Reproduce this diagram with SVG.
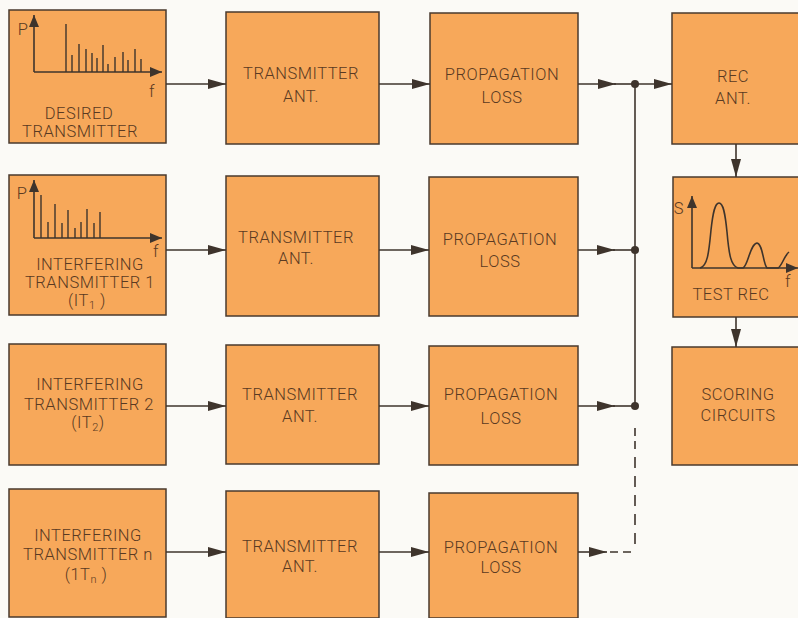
<svg xmlns="http://www.w3.org/2000/svg" width="798" height="618" viewBox="0 0 798 618">
<defs>
<style>
.box{fill:#f7a85a;stroke:#4a3a2e;stroke-width:1.5}
.t{font-family:Roboto,"Liberation Sans",Arial,sans-serif;font-weight:300;font-size:16.5px;fill:#5a3a22;text-anchor:middle;letter-spacing:0.5px}
.ln{stroke:#3e342c;stroke-width:1.6;fill:none}
.dash{stroke:#3e342c;stroke-width:1.6;fill:none}
.ax{stroke:#3e342c;stroke-width:1.6;fill:none}
.sp{stroke:#3e342c;stroke-width:1.4}
.dot{fill:#3e342c}
</style>
<marker id="ah" markerUnits="userSpaceOnUse" markerWidth="20" markerHeight="12" refX="18" refY="6" orient="auto">
<path d="M0,1 L18,6 L0,11 Z" fill="#3e342c"/>
</marker>
<marker id="ax" markerUnits="userSpaceOnUse" markerWidth="14" markerHeight="10" refX="12" refY="5" orient="auto">
<path d="M0,0 L12,5 L0,10 Z" fill="#3e342c"/>
</marker>
</defs>
<rect width="798" height="618" fill="#fbfaf6"/>

<g id="desired-transmitter">
<rect class="box" x="9" y="10" width="157" height="133"/>
<line class="ax" x1="34" y1="72" x2="34" y2="15" marker-end="url(#ax)"/>
<line class="ax" x1="34" y1="72" x2="162" y2="72" marker-end="url(#ax)"/>
<g class="sp">
<line x1="66" y1="72" x2="66" y2="24"/><line x1="72" y1="72" x2="72" y2="55"/><line x1="79" y1="72" x2="79" y2="44"/><line x1="86" y1="72" x2="86" y2="49"/><line x1="92" y1="72" x2="92" y2="53"/><line x1="97" y1="72" x2="97" y2="58"/><line x1="103" y1="72" x2="103" y2="45"/><line x1="108" y1="72" x2="108" y2="64"/><line x1="115" y1="72" x2="115" y2="57"/><line x1="123" y1="72" x2="123" y2="52"/><line x1="128" y1="72" x2="128" y2="60"/><line x1="135" y1="72" x2="135" y2="49"/><line x1="141" y1="72" x2="141" y2="59"/>
</g>
<text class="t" x="23" y="35">P</text>
<text class="t" x="152" y="97">f</text>
<text class="t" x="79" y="119">DESIRED</text>
<text class="t" x="80" y="137">TRANSMITTER</text>
</g>

<g id="interfering-transmitter-1">
<rect class="box" x="9" y="175" width="157" height="140"/>
<line class="ax" x1="34" y1="238" x2="34" y2="180" marker-end="url(#ax)"/>
<line class="ax" x1="34" y1="238" x2="162" y2="238" marker-end="url(#ax)"/>
<g class="sp">
<line x1="41" y1="238" x2="41" y2="195"/><line x1="48" y1="238" x2="48" y2="222"/><line x1="55" y1="238" x2="55" y2="204"/><line x1="62" y1="238" x2="62" y2="223"/><line x1="68" y1="238" x2="68" y2="210"/><line x1="75" y1="238" x2="75" y2="228"/><line x1="81" y1="238" x2="81" y2="222"/><line x1="87" y1="238" x2="87" y2="209"/><line x1="94" y1="238" x2="94" y2="223"/><line x1="100" y1="238" x2="100" y2="212"/>
</g>
<text class="t" x="22" y="199">P</text>
<text class="t" x="156" y="257">f</text>
<text class="t" x="90" y="270">INTERFERING</text>
<text class="t" x="90" y="288">TRANSMITTER 1</text>
<text class="t" x="87" y="306">(IT<tspan font-size="11" dy="3">1</tspan><tspan dy="-3"> )</tspan></text>
</g>

<g id="interfering-transmitter-2">
<rect class="box" x="9" y="344" width="157" height="121"/>
<text class="t" x="90" y="390">INTERFERING</text>
<text class="t" x="89" y="410">TRANSMITTER 2</text>
<text class="t" x="88" y="428">(IT<tspan font-size="11" dy="3">2</tspan><tspan dy="-3">)</tspan></text>
</g>

<g id="interfering-transmitter-n">
<rect class="box" x="9" y="489" width="157" height="128"/>
<text class="t" x="88" y="541">INTERFERING</text>
<text class="t" x="88" y="560">TRANSMITTER n</text>
<text class="t" x="86" y="580">(1T<tspan font-size="11" dy="3">n</tspan><tspan dy="-3"> )</tspan></text>
</g>

<g id="transmitter-ant-1"><rect class="box" x="226" y="12" width="153" height="132"/><text class="t" x="301" y="79">TRANSMITTER</text><text class="t" x="301" y="102">ANT.</text></g>
<g id="transmitter-ant-2"><rect class="box" x="226" y="176" width="153" height="140"/><text class="t" x="296" y="243">TRANSMITTER</text><text class="t" x="296" y="264">ANT.</text></g>
<g id="transmitter-ant-3"><rect class="box" x="226" y="345" width="153" height="119"/><text class="t" x="300" y="400">TRANSMITTER</text><text class="t" x="300" y="422">ANT.</text></g>
<g id="transmitter-ant-n"><rect class="box" x="226" y="491" width="153" height="127"/><text class="t" x="300" y="552">TRANSMITTER</text><text class="t" x="300" y="572">ANT.</text></g>

<g id="propagation-loss-1"><rect class="box" x="430" y="13" width="148" height="131"/><text class="t" x="502" y="80">PROPAGATION</text><text class="t" x="502" y="103">LOSS</text></g>
<g id="propagation-loss-2"><rect class="box" x="429" y="177" width="149" height="139"/><text class="t" x="500" y="245">PROPAGATION</text><text class="t" x="500" y="267">LOSS</text></g>
<g id="propagation-loss-3"><rect class="box" x="429" y="346" width="149" height="119"/><text class="t" x="501" y="400">PROPAGATION</text><text class="t" x="501" y="424">LOSS</text></g>
<g id="propagation-loss-n"><rect class="box" x="429" y="493" width="149" height="125"/><text class="t" x="501" y="553">PROPAGATION</text><text class="t" x="501" y="573">LOSS</text></g>

<g id="rec-ant"><rect class="box" x="672" y="13" width="130" height="131"/><text class="t" x="733" y="82">REC</text><text class="t" x="733" y="104">ANT.</text></g>

<g id="test-rec">
<rect class="box" x="673" y="177" width="129" height="140"/>
<line class="ax" x1="692" y1="268" x2="692" y2="196" marker-end="url(#ax)"/>
<line class="ax" x1="692" y1="268" x2="798" y2="268" marker-end="url(#ax)"/>
<path class="ax" d="M700,268 C708,266 709,250 711,230 C713,212 715,203 719,203 C723,203 725,212 727,232 C729,255 731,266 738,268 L743,268 C748,266 750,244 757,243 C763,244 763,264 767,268 L778,268 C782,266 784,256 789,252"/>
<text class="t" x="679" y="214">S</text>
<text class="t" x="788" y="287">f</text>
<text class="t" x="731" y="300">TEST REC</text>
</g>

<g id="scoring-circuits"><rect class="box" x="672" y="347" width="130" height="118"/><text class="t" x="738" y="400">SCORING</text><text class="t" x="738" y="421">CIRCUITS</text></g>

<g id="connectors">
<line class="ln" x1="166" y1="84" x2="226" y2="84" marker-end="url(#ah)"/>
<line class="ln" x1="379" y1="84" x2="430" y2="84" marker-end="url(#ah)"/>
<line class="ln" x1="578" y1="84" x2="616" y2="84" marker-end="url(#ah)"/>
<line class="ln" x1="614" y1="84" x2="635" y2="84"/>
<line class="ln" x1="635" y1="84" x2="672" y2="84" marker-end="url(#ah)"/>

<line class="ln" x1="166" y1="250" x2="226" y2="250" marker-end="url(#ah)"/>
<line class="ln" x1="379" y1="250" x2="429" y2="250" marker-end="url(#ah)"/>
<line class="ln" x1="578" y1="250" x2="615" y2="250" marker-end="url(#ah)"/>
<line class="ln" x1="613" y1="250" x2="635" y2="250"/>

<line class="ln" x1="166" y1="406" x2="226" y2="406" marker-end="url(#ah)"/>
<line class="ln" x1="379" y1="406" x2="429" y2="406" marker-end="url(#ah)"/>
<line class="ln" x1="578" y1="406" x2="615" y2="406" marker-end="url(#ah)"/>
<line class="ln" x1="613" y1="406" x2="635" y2="406"/>

<line class="ln" x1="166" y1="552" x2="226" y2="552" marker-end="url(#ah)"/>
<line class="ln" x1="379" y1="552" x2="429" y2="552" marker-end="url(#ah)"/>
<line class="ln" x1="578" y1="552" x2="607" y2="552" marker-end="url(#ah)"/>
<path class="dash" d="M610,552 L635,552 L635,427" stroke-dasharray="8,5,8,12,11,8,11,8,11,8,11,8,11,8"/>

<line class="ln" x1="635" y1="84" x2="635" y2="406"/>
<circle class="dot" cx="635" cy="84" r="4"/>
<circle class="dot" cx="635" cy="250" r="4"/>
<circle class="dot" cx="635" cy="406" r="4"/>

<line class="ln" x1="736" y1="144" x2="736" y2="177" marker-end="url(#ah)"/>
<line class="ln" x1="736" y1="317" x2="736" y2="347" marker-end="url(#ah)"/>
</g>
</svg>
